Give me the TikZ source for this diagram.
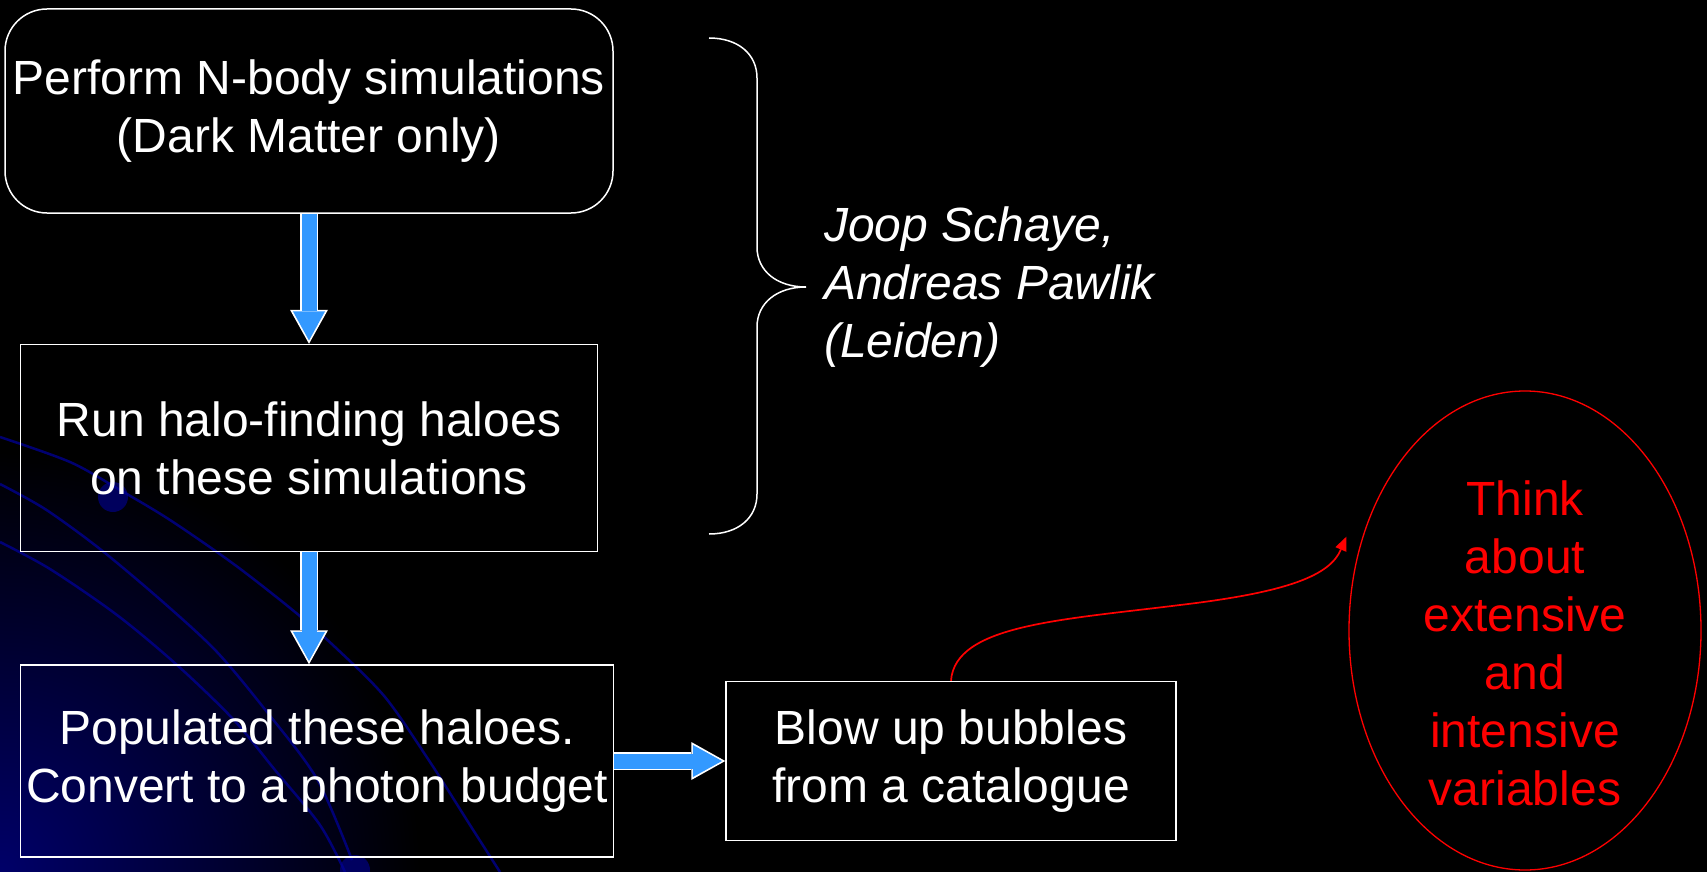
\documentclass[tikz,border=0pt]{standalone}
\usepackage{fontspec}
\setmainfont{Liberation Sans}
\usetikzlibrary{arrows.meta,positioning,shapes.geometric}
\definecolor{arrowblue}{RGB}{51,153,255}
\definecolor{arcblue}{RGB}{0,0,150}
\definecolor{glowblue}{RGB}{0,0,105}
\tikzstyle{box}=[draw=white, line width=1.5pt, text=white, align=center, inner sep=0pt, font=\fontsize{48}{58}\selectfont]
\tikzstyle{fatrim}=[draw=white, line width=18pt, -{Triangle[width=38pt,length=34pt,line width=0pt]}]
\tikzstyle{fatbody}=[draw=arrowblue, line width=15pt, shorten >=3.3pt, -{Triangle[width=32pt,length=29pt,line width=0pt]}]
\tikzstyle{redarrow}=[draw=red, line width=1.7pt, -{Triangle[width=12pt,length=14pt,line width=0pt]}]
\tikzstyle{bracepath}=[draw=white, line width=1.5pt]
\tikzstyle{bgarc}=[draw=arcblue, line width=2.5pt, opacity=.75]

\begin{document}
\begin{tikzpicture}[x=1pt,y=1pt]
    % background of the slide
    \useasboundingbox (0,0) rectangle (1707,-872);
    \fill[black] (0,0) rectangle (1707,-872);
    \begin{scope}
        \clip (0,0) rectangle (1707,-872);
        \shade[inner color=glowblue, outer color=black] (0,-872) circle (420);
        \draw[bgarc] plot[smooth] coordinates {(0,-437) (70,-462) (120,-490) (170,-520) (235,-565) (295,-612) (335,-647) (385,-697) (430,-762) (470,-825) (500,-872)};
        \draw[bgarc] plot[smooth] coordinates {(0,-484) (45,-509) (100,-549) (163,-602) (217,-652) (267,-712) (317,-779) (352,-860)};
        \draw[bgarc] plot[smooth] coordinates {(0,-542) (50,-569) (117,-615) (177,-665) (233,-719) (275,-770) (320,-825) (345,-872)};
        \fill[arcblue, opacity=.6] (113,-497) circle (15);
        \fill[arcblue, opacity=.6] (355,-870) circle (15);
    \end{scope}

    % flow of boxes
    \node (sim)  [box, rounded corners=42pt, minimum width=608pt, minimum height=204pt] at (309,-111) {Perform N-body simulations\\(Dark Matter only)};
    \node (halo) [box, minimum width=577pt, minimum height=207pt, below=130pt of sim] {Run halo-finding haloes\\on these simulations};
    \node (pop)  [box, minimum width=593pt, minimum height=192pt, below=112pt of halo, xshift=8pt] {Populated these haloes.\\Convert to a photon budget};
    \node (blow) [box, minimum width=450pt, minimum height=159pt, right=111pt of pop] {Blow up bubbles\\from a catalogue};

    \foreach \a/\b in {sim/halo, halo/pop} {
        \draw[fatrim]  (sim.south |- \a.south) -- (sim.south |- \b.north);
        \draw[fatbody] (sim.south |- \a.south) -- (sim.south |- \b.north);
    }
    \draw[fatrim]  (pop) -- (blow);
    \draw[fatbody] (pop) -- (blow);

    % brace and names
    \coordinate (tip) at (806,-287);
    \draw[bracepath] (709,-38) .. controls (738,-38) and (757,-54) .. (757,-78) -- (757,-247)
        .. controls (757,-271) and (777,-287) .. (tip)
        .. controls (777,-287) and (757,-303) .. (757,-327) -- (757,-494)
        .. controls (757,-518) and (738,-534) .. (709,-534);
    \node (names) [right=18pt of tip, text=white, align=left, inner sep=0pt, font=\fontsize{48}{58}\selectfont\itshape] {Joop Schaye,\\Andreas Pawlik\\(Leiden)};

    % red remark
    \node (oval) [ellipse, draw=red, line width=1.3pt, minimum width=352pt, minimum height=479pt, inner sep=0pt] at (1525,-630.5) {};
    \node (think) [text=red, align=center, inner sep=0pt, font=\fontsize{48}{58}\selectfont] at (1525,-643) {Think\\about\\extensive\\and\\intensive\\variables};
    \coordinate (arrtip) at ([xshift=-16pt]oval.150);
    \draw[redarrow] (blow.north) .. controls (955,-625) and (1060,-620) .. (1180,-605) .. controls (1290,-592) and (1330,-575) .. (arrtip);
\end{tikzpicture}
\end{document}
